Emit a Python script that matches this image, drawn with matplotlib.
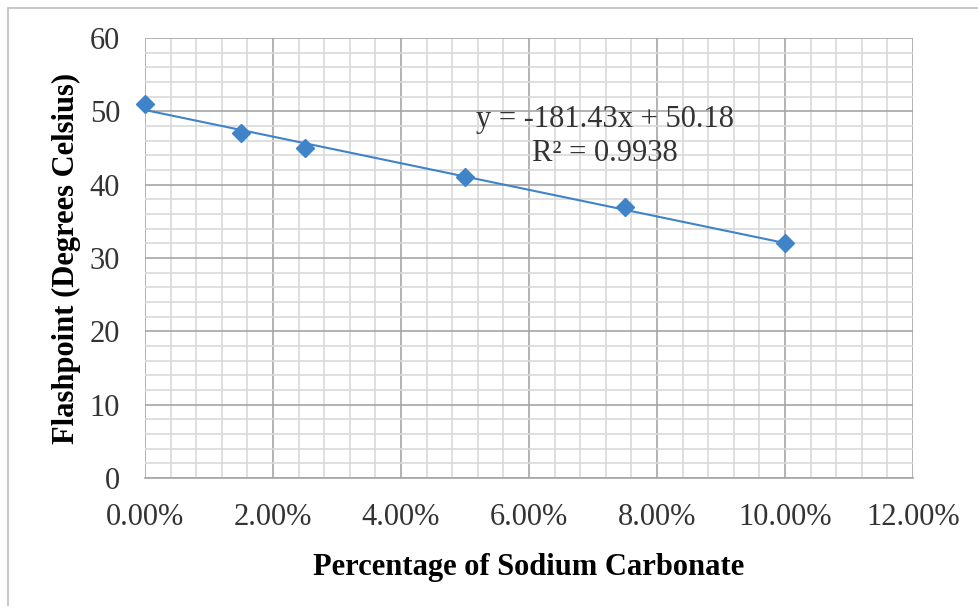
import numpy as np
import matplotlib.pyplot as plt
from matplotlib.ticker import MultipleLocator, FuncFormatter
from matplotlib.patches import Rectangle

# data
sodium_carbonate = [0.0, 0.015, 0.025, 0.05, 0.075, 0.10]
flashpoint = [51, 47, 45, 41, 37, 32]
slope, intercept = -181.43, 50.18
equation_text = 'y = -181.43x + 50.18\nR² = 0.9938'

plt.rcParams['font.family'] = ['Liberation Serif', 'DejaVu Serif']

fig = plt.figure(figsize=(9.79, 6.06), dpi=100)
ax = fig.add_axes([145 / 979, 1 - 478 / 606, 768 / 979, 440 / 606])

# outer chart border
fig.patches.append(Rectangle((8 / 979, -0.01), 1.0, 1 - 8 / 606 + 0.01, transform=fig.transFigure,
                             fill=False, edgecolor='#bfbfbf', linewidth=1.2))

blue = '#3f83c8'
trend_x = np.array([min(sodium_carbonate), max(sodium_carbonate)])
ax.plot(trend_x, slope * trend_x + intercept, color=blue, linewidth=1.5, zorder=3)
ax.plot(sodium_carbonate, flashpoint, linestyle='none', marker='D', markersize=9,
        color=blue, zorder=4, clip_on=False)

ax.set_xlim(0, 0.12)
ax.set_ylim(0, 60)
ax.xaxis.set_major_locator(MultipleLocator(0.02))
ax.xaxis.set_minor_locator(MultipleLocator(0.004))
ax.yaxis.set_major_locator(MultipleLocator(10))
ax.yaxis.set_minor_locator(MultipleLocator(2))
ax.xaxis.set_major_formatter(FuncFormatter(lambda v, p: '{:.2f}%'.format(v * 100)))

ax.grid(which='major', color='#a6a6a6', linewidth=1.2)
ax.grid(which='minor', color='#d9d9d9', linewidth=1.2)
ax.set_axisbelow(True)
for s in ['top', 'right', 'left']:
    ax.spines[s].set_visible(False)
ax.spines['bottom'].set_color('#a6a6a6')
ax.spines['bottom'].set_linewidth(1.2)
ax.tick_params(which='both', length=0)
ax.tick_params(axis='x', labelsize=22, pad=18, colors='#333333')
ax.tick_params(axis='y', labelsize=22, pad=18, colors='#333333')

ax.set_xlabel('Percentage of Sodium Carbonate', fontsize=22, fontweight='bold', labelpad=15)
ax.set_ylabel('Flashpoint (Degrees Celsius)', fontsize=22, fontweight='bold', labelpad=6)

ax.text(0.0719, 46.6, equation_text, ha='center', va='center', fontsize=22,
        color='#333333', linespacing=1.25)

fig.savefig('out.png', dpi=100)
